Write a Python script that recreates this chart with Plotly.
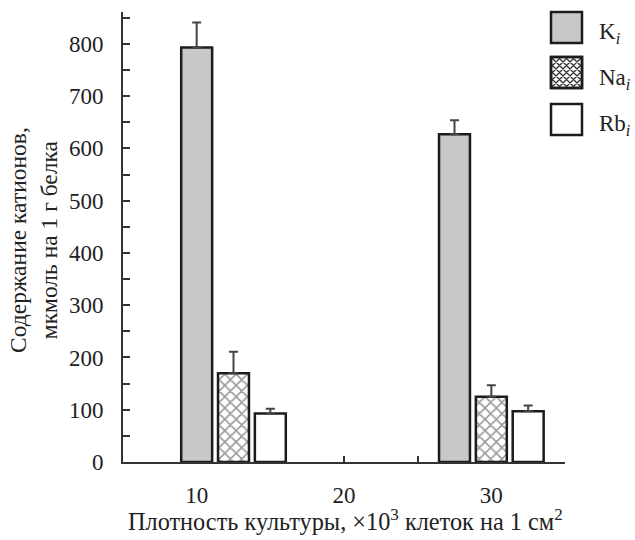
import plotly.graph_objects as go

# ---- data ----
k_x = [10, 27.5]
na_x = [12.5, 30]
rb_x = [15, 32.5]
k_vals = [793, 627]
k_err = [48, 27]
na_vals = [170, 125]
na_err = [41, 22]
rb_vals = [93, 97]
rb_err = [9, 11]
x_tickvals = [5, 10, 15, 20, 25, 30, 35]
x_ticktext = ["", "10", "", "20", "", "30", ""]
y_tickvals = list(range(0, 851, 50))
y_ticktext = [str(v) if v % 100 == 0 else "" for v in y_tickvals]

FONT = "Liberation Serif"
INK = "#222222"
OUT = "#1c1c1c"
BW = 2.1

fig = go.Figure()

def err(vals):
    return dict(type="data", array=vals, arrayminus=[0] * len(vals), symmetric=False,
                color="#444444", thickness=2, width=4.5)

fig.add_trace(go.Bar(x=k_x, y=k_vals, width=BW, error_y=err(k_err),
                     marker=dict(color="#c8c8c8", line=dict(color=OUT, width=2.5)),
                     showlegend=False))
fig.add_trace(go.Bar(x=na_x, y=na_vals, width=BW, error_y=err(na_err),
                     marker=dict(color="white", line=dict(color=OUT, width=2.5),
                                 pattern=dict(shape="x", fgcolor="#333333", bgcolor="white",
                                              size=8, solidity=0.35)),
                     showlegend=False))
fig.add_trace(go.Bar(x=rb_x, y=rb_vals, width=BW, error_y=err(rb_err),
                     marker=dict(color="white", line=dict(color=OUT, width=2.5)),
                     showlegend=False))

L, R, T, B = 123, 70, 12, 78
W, H = 635, 540
PW, PH = W - L - R, H - T - B

def px2paper(X, Y):
    return (X - L) / PW, (H - B - Y) / PH

shapes = []
annotations = []
legend_items = [("K<sub><i>i</i></sub>", "#c8c8c8", False, 12, 33),
                ("Na<sub><i>i</i></sub>", "white", True, 57, 79),
                ("Rb<sub><i>i</i></sub>", "white", False, 104, 125)]
S = 31
X0 = 551
for label, fill, hatch, ytop, ytext in legend_items:
    x0, y1 = px2paper(X0, ytop)
    x1, y0 = px2paper(X0 + S, ytop + S)
    shapes.append(dict(type="rect", xref="paper", yref="paper", x0=x0, x1=x1, y0=y0, y1=y1,
                       fillcolor=fill, line=dict(color=OUT, width=2.5), layer="above"))
    if hatch:
        path = ""
        step = 7
        for c in range(-S + 3, S, step):
            ax, ay = max(0, c), max(0, -c)
            bx, by = min(S, S + c), min(S, S - c)
            p1 = px2paper(X0 + ax, ytop + ay)
            p2 = px2paper(X0 + bx, ytop + by)
            path += f"M{p1[0]},{p1[1]} L{p2[0]},{p2[1]} "
        for c in range(3, 2 * S, step):
            ax, ay = max(0, c - S), min(S, c)
            bx, by = min(S, c), max(0, c - S)
            p1 = px2paper(X0 + ax, ytop + ay)
            p2 = px2paper(X0 + bx, ytop + by)
            path += f"M{p1[0]},{p1[1]} L{p2[0]},{p2[1]} "
        shapes.append(dict(type="path", xref="paper", yref="paper", path=path,
                           line=dict(color="#333333", width=1.3), layer="above"))
        shapes.append(dict(type="rect", xref="paper", yref="paper", x0=x0, x1=x1, y0=y0, y1=y1,
                           fillcolor="rgba(0,0,0,0)", line=dict(color=OUT, width=2.5), layer="above"))
    tx, ty = px2paper(597, ytext)
    annotations.append(dict(text=label, xref="paper", yref="paper", x=tx, y=ty,
                            xanchor="left", yanchor="middle", showarrow=False,
                            font=dict(family=FONT, size=23, color=INK)))

ax_, ay_ = px2paper(34, 240)
annotations.append(dict(text="Содержание катионов,<br>мкмоль на 1 г белка", xref="paper", yref="paper",
                        x=ax_, y=ay_, xanchor="center", yanchor="middle", textangle=-90,
                        showarrow=False, font=dict(family=FONT, size=23.5, color=INK)))
bx_, by_ = px2paper(345, 520)
annotations.append(dict(text="Плотность культуры, ×10<sup>3</sup> клеток на 1 см<sup>2</sup>",
                        xref="paper", yref="paper", x=bx_, y=by_, xanchor="center", yanchor="middle",
                        showarrow=False, font=dict(family=FONT, size=24.3, color=INK)))

fig.update_layout(
    width=W, height=H, margin=dict(l=L, r=R, t=T, b=B),
    paper_bgcolor="white", plot_bgcolor="white",
    barmode="overlay", showlegend=False,
    shapes=shapes, annotations=annotations,
    font=dict(family=FONT, size=23, color=INK),
    xaxis=dict(range=[5, 35], tickvals=x_tickvals, ticktext=x_ticktext, ticks="inside",
               ticklen=6, tickwidth=1.5, tickcolor="#333", showline=True, linecolor="#333",
               linewidth=2, showgrid=False, zeroline=False, layer="below traces",
               ticklabelstandoff=11, tickfont=dict(family=FONT, size=23, color=INK)),
    yaxis=dict(range=[0, 861], tickvals=y_tickvals, ticktext=y_ticktext, ticks="inside",
               ticklen=7, tickwidth=1.5, tickcolor="#333", showline=True, linecolor="#333",
               linewidth=2, showgrid=False, zeroline=False,
               ticklabelstandoff=13, tickfont=dict(family=FONT, size=23, color=INK)),
)

fig.write_html("out.html")
